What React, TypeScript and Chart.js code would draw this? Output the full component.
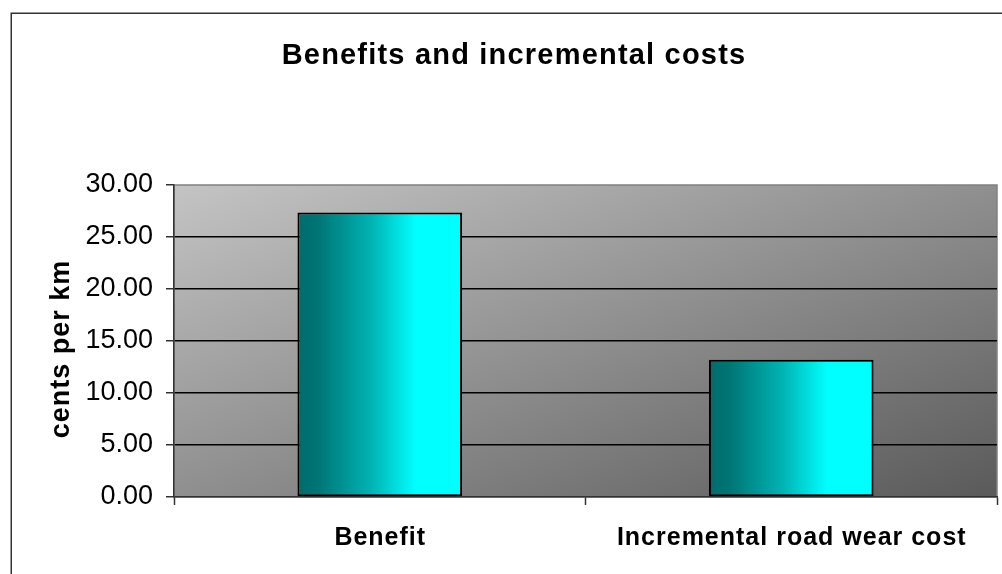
import React, { useEffect, useRef } from "react";
import { Chart, registerables } from "chart.js";

Chart.register(...registerables);

const chartTitle = "Benefits and incremental costs";
const yAxisTitle = "cents per km";
const categories = ["Benefit", "Incremental road wear cost"];
const values = [27.35, 13.2];
const yTicks = [0, 5, 10, 15, 20, 25, 30];

const W = 1002;
const H = 574;
const FONT = "'Liberation Sans', Arial, sans-serif";

export default function App() {
  const ref = useRef<HTMLCanvasElement | null>(null);

  useEffect(() => {
    const canvas = ref.current;
    if (!canvas) return;

    const decor = {
      id: "decor",
      beforeDraw(chart: any) {
        const ctx = chart.ctx;
        const a = chart.chartArea;
        ctx.save();
        ctx.fillStyle = "#ffffff";
        ctx.fillRect(0, 0, W, H);
        // outer frame
        ctx.strokeStyle = "#333333";
        ctx.lineWidth = 1.5;
        ctx.strokeRect(11.25, 13.25, 1006, 700);
        // plot background
        const w = a.right - a.left;
        const h = a.bottom - a.top;
        const k = (2 * w * h) / (w * w + h * h);
        const g = ctx.createLinearGradient(a.left, a.top, a.left + h * k, a.top + w * k);
        g.addColorStop(0, "#c4c4c4");
        g.addColorStop(1, "#5a5a5a");
        ctx.fillStyle = g;
        ctx.fillRect(a.left, a.top, w, h);
        ctx.strokeStyle = "#808080";
        ctx.lineWidth = 1.5;
        ctx.strokeRect(a.left, a.top, w, h);
        // title
        ctx.fillStyle = "#000000";
        ctx.font = `bold 29px ${FONT}`;
        (ctx as any).letterSpacing = "1.2px";
        ctx.textAlign = "center";
        ctx.textBaseline = "alphabetic";
        ctx.fillText(chartTitle, 514, 64);
        // y axis title
        ctx.font = `bold 27px ${FONT}`;
        (ctx as any).letterSpacing = "1px";
        ctx.translate(69, 349);
        ctx.rotate(-Math.PI / 2);
        ctx.fillText(yAxisTitle, 0, 0);
        ctx.restore();
      },
      afterDraw(chart: any) {
        const ctx = chart.ctx;
        const xs = chart.scales.x;
        ctx.save();
        ctx.fillStyle = "#000000";
        ctx.font = `bold 25px ${FONT}`;
        (ctx as any).letterSpacing = "1px";
        ctx.textAlign = "center";
        ctx.textBaseline = "alphabetic";
        categories.forEach((c, i) => {
          ctx.fillText(c, xs.getPixelForValue(i) + 0.5, 545);
        });
        ctx.restore();
      },
    };

    const barGradient = (c: any) => {
      const chart = c.chart;
      const xs = chart.scales.x;
      if (!xs || !chart.chartArea) return "#00c0c0";
      const catW = xs.width / categories.length;
      const bw = catW * 0.4;
      const cx = xs.getPixelForValue(c.dataIndex);
      const g = chart.ctx.createLinearGradient(cx - bw / 2, 0, cx + bw / 2, 0);
      g.addColorStop(0, "#006c6c");
      g.addColorStop(0.12, "#007474");
      g.addColorStop(0.45, "#00b4b4");
      g.addColorStop(0.72, "#00ffff");
      g.addColorStop(1, "#00ffff");
      return g;
    };

    const chart = new Chart(canvas, {
      type: "bar",
      data: {
        labels: categories,
        datasets: [
          {
            data: values,
            backgroundColor: barGradient,
            borderColor: "#000000",
            borderWidth: 2,
            borderSkipped: false,
            categoryPercentage: 0.4,
            barPercentage: 1,
          },
        ],
      },
      options: {
        responsive: false,
        animation: false,
        devicePixelRatio: 1,
        layout: { padding: { top: 185, left: 0, right: 5, bottom: 0 } },
        plugins: {
          legend: { display: false },
          title: { display: false },
          tooltip: { enabled: false },
        },
        scales: {
          x: {
            afterFit: (s: any) => {
              s.height = 77;
            },
            grid: {
              offset: true,
              drawOnChartArea: false,
              drawTicks: true,
              tickLength: 8,
              tickColor: "#333333",
              tickWidth: 1.5,
            },
            border: { display: true, color: "#333333", width: 1.5 },
            ticks: { display: false },
          },
          y: {
            min: 0,
            max: 30,
            afterFit: (s: any) => {
              s.width = 174;
            },
            afterBuildTicks: (s: any) => {
              s.ticks = yTicks.map((v) => ({ value: v }));
            },
            grid: {
              color: (c: any) =>
                c.tick && (c.tick.value === 0 || c.tick.value === 30) ? "rgba(0,0,0,0)" : "#000000",
              lineWidth: 1.5,
              drawTicks: true,
              tickLength: 8,
              tickColor: "#333333",
              tickWidth: 1.5,
            },
            border: { display: true, color: "#333333", width: 1.5 },
            ticks: {
              padding: 13,
              color: "#000000",
              font: { family: FONT, size: 27 },
              callback: (v: any) => Number(v).toFixed(2),
            },
          },
        },
      },
      plugins: [decor],
    });

    return () => chart.destroy();
  }, []);

  return (
    <div style={{ position: "fixed", left: 0, top: 0, width: W, height: H, background: "#fff" }}>
      <canvas ref={ref} width={W} height={H} style={{ display: "block" }} />
    </div>
  );
}
